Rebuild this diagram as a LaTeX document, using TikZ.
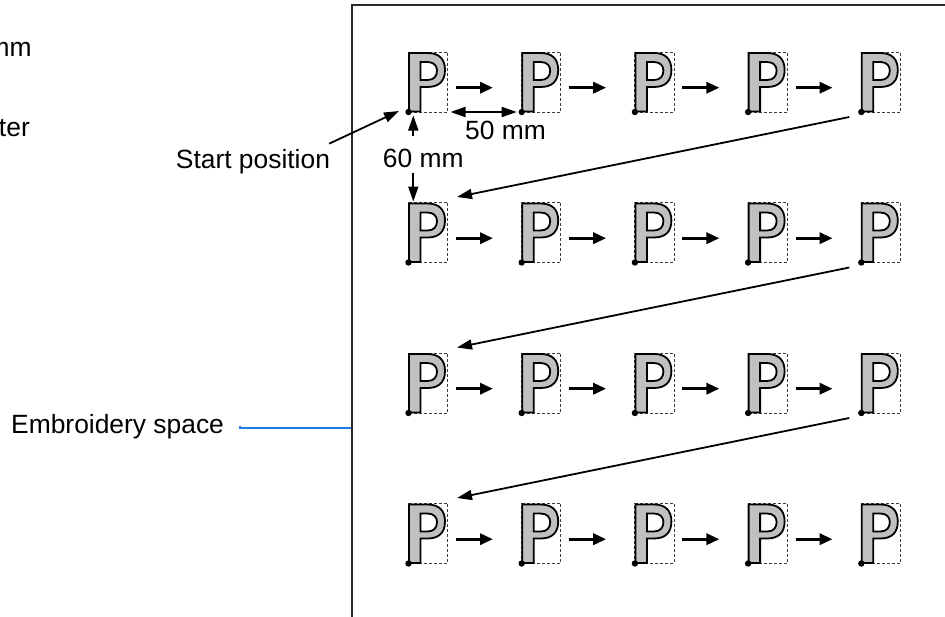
\documentclass[tikz,border=0pt]{standalone}
\usepackage{fontspec}
\setmainfont{Liberation Sans}
\usetikzlibrary{arrows.meta,calc}
\definecolor{pgray}{RGB}{192,192,192}
\definecolor{framecol}{RGB}{40,40,40}
\definecolor{leaderblue}{RGB}{30,120,230}
\definecolor{dashcol}{RGB}{60,60,60}
\begin{document}
\begin{tikzpicture}[x=1pt,y=-1pt,
  lbl/.style={font=\fontsize{26.4}{31.7}\selectfont, inner sep=0pt, text=black},
  thinarrow/.style={line width=1.8pt, -{Triangle[length=15pt,width=10pt]}},
  dimarrow/.style={line width=1.8pt, {Triangle[length=15pt,width=10pt]}-{Triangle[length=15pt,width=10pt]}},
  flowarrow/.style={line width=3.2pt, -{Triangle[length=13pt,width=11pt]}},
  pbox/.style={draw=dashcol, line width=1pt, dash pattern=on 3pt off 2pt},
  pshape/.style={fill=pgray, draw=black, line width=1.8pt, even odd rule, line join=miter},
  framebox/.style={draw=framecol, line width=2pt}
]
\clip (0,0) rectangle (945,616);
\fill[white] (0,0) rectangle (945,616);

% frame (embroidery space)
\draw[framebox] (351.7,5) rectangle (1000,700);
\coordinate (frameleft) at (351.2,427.7);

% P glyphs
\foreach \r in {0,1,2,3}{
  \foreach \c in {0,1,2,3,4}{
    \coordinate (p\r\c) at ({408.5+113.2*\c},{112+150.5*\r});
    \begin{scope}[shift={(p\r\c)}]
      \draw[pbox] (0,0) rectangle (39.2,-60);
      \path[pshape] (0.5,-0.5) -- (0.5,-59) -- (19,-59)
        .. controls (30.5,-59) and (36.5,-53) .. (36.5,-42)
        .. controls (36.5,-31) and (30.5,-25) .. (19,-25)
        -- (12,-25) -- (12,-0.5) -- cycle
        (12,-50) -- (19,-50)
        .. controls (25.5,-50) and (28.5,-46) .. (28.5,-41.5)
        .. controls (28.5,-36) and (25.5,-32) .. (19,-32)
        -- (12,-32) -- cycle;
      \fill[black] (0,0) circle (3.2);
    \end{scope}
  }
}

% horizontal flow arrows
\foreach \r in {0,1,2,3}{
  \foreach \c in {0,1,2,3}{
    \draw[flowarrow] ($(p\r\c)+(47.5,-24.3)$) -- ($(p\r\c)+(84.5,-24.3)$);
  }
}

% return diagonals
\draw[thinarrow] ($(p04)+(-12,5)$) -- ($(p10)+(48.5,-65.5)$);
\draw[thinarrow] ($(p14)+(-12,5)$) -- ($(p20)+(48.5,-65.5)$);
\draw[thinarrow] ($(p24)+(-12,5)$) -- ($(p30)+(48.5,-65.5)$);

% dimension 50 mm
\draw[dimarrow] ($(p00)+(42,0)$) -- ($(p01)+(-5,0)$);
\node[lbl, anchor=base west] (dimfifty) at (465,139) {50 mm};

% dimension 60 mm
\node[lbl, anchor=base west] (dimsixty) at (382.7,167) {60 mm};
\draw[thinarrow] ($(p00)+(4.8,24)$) -- ($(p00)+(4.8,3.5)$);
\draw[thinarrow] ($(p10)+(4.8,-89.5)$) -- ($(p10)+(4.8,-61)$);

% start position
\node[lbl, anchor=base west] (startlbl) at (175.7,168) {Start position};
\draw[thinarrow] ($(startlbl.north east)+(-1,-5)$) -- ($(p00)+(-9.5,-1)$);

% embroidery space
\node[lbl, anchor=base west] (embr) at (11,433.3) {Embroidery space};
\draw[leaderblue, line width=1.6pt] ($(embr.east)+(16,0)$) |- (frameleft);

% partially visible texts at the left edge
\node[lbl, anchor=base east] (partmm) at (31.7,56.7) {mm};
\node[lbl, anchor=base east] (partter) at (30,136.7) {ter};
\end{tikzpicture}
\end{document}
